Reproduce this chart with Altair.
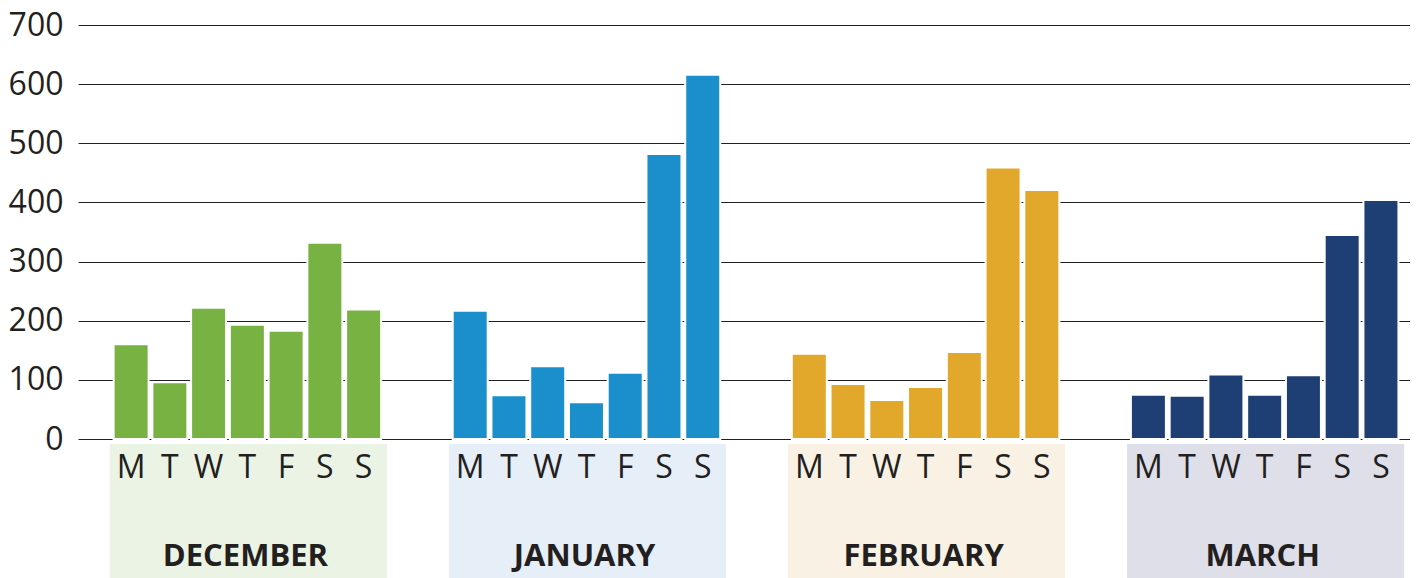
import altair as alt
import pandas as pd

days = ["M", "T", "W", "T", "F", "S", "S"]
months = ["DECEMBER", "JANUARY", "FEBRUARY", "MARCH"]
dec_vals = [160, 96, 222, 193, 183, 332, 219]
jan_vals = [217, 74, 123, 62, 112, 482, 616]
feb_vals = [144, 93, 66, 88, 147, 459, 421]
mar_vals = [75, 73, 109, 75, 108, 345, 404]
bar_colors = ["#77b243", "#1a8fcb", "#e2a82b", "#1e3f74"]
box_colors = ["#ebf3e4", "#e6eef8", "#f9f1e3", "#dfdfea"]

series = [dec_vals, jan_vals, feb_vals, mar_vals]
GROUP_STEP = 8.75

rows = []
for g, (m, vals) in enumerate(zip(months, series)):
    for d, (day, v) in enumerate(zip(days, vals)):
        rows.append({"month": m, "day": day, "pos": g * GROUP_STEP + d, "value": v})
bars_df = pd.DataFrame(rows)

box_rows = []
for g, m in enumerate(months):
    base = g * GROUP_STEP
    box_rows.append({"month": m, "x0": base - 0.55, "x1": base + 6.6, "mid": base + 2.95})
box_df = pd.DataFrame(box_rows)

TXT = "#231f20"
FONT = "Open Sans"

xscale = alt.Scale(domain=[-1.37, 33.0], nice=False, zero=False, padding=0)

boxes = alt.Chart(box_df).mark_rect().encode(
    x=alt.X("x0:Q", scale=xscale, axis=None),
    x2="x1:Q",
    y=alt.value(419),
    y2=alt.value(553),
    fill=alt.Fill("month:N", scale=alt.Scale(domain=months, range=box_colors), legend=None),
)

bars = alt.Chart(bars_df).mark_bar(width=35, stroke="white", strokeWidth=2).encode(
    x=alt.X("pos:Q", scale=xscale, axis=None),
    y=alt.Y(
        "value:Q",
        scale=alt.Scale(domain=[0, 700], nice=False),
        axis=alt.Axis(
            values=list(range(0, 701, 100)),
            title=None,
            grid=True,
            gridColor=TXT,
            gridWidth=1,
            gridOpacity=1,
            domain=False,
            ticks=False,
            labelFont=FONT,
            labelFontSize=32,
            labelColor=TXT,
            labelPadding=15,
        ),
    ),
    color=alt.Color("month:N", scale=alt.Scale(domain=months, range=bar_colors), legend=None),
)

day_text = alt.Chart(bars_df).mark_text(
    font=FONT, fontSize=32, color=TXT, baseline="alphabetic", align="center"
).encode(
    x=alt.X("pos:Q", scale=xscale, axis=None),
    y=alt.value(453),
    text="day:N",
)

month_text = alt.Chart(box_df).mark_text(
    font=FONT, fontSize=31, fontWeight="bold", color=TXT, baseline="alphabetic", align="center"
).encode(
    x=alt.X("mid:Q", scale=xscale, axis=None),
    y=alt.value(541),
    text="month:N",
)

chart = (
    alt.layer(boxes, bars, day_text, month_text)
    .resolve_scale(color="independent", fill="independent")
    .properties(
        width=1332,
        height=414,
        padding={"left": 0, "top": 1, "right": 0, "bottom": 0},
    )
    .configure_view(stroke=None)
)

chart.save("out.html", embed_options={"renderer": "svg", "actions": False})
